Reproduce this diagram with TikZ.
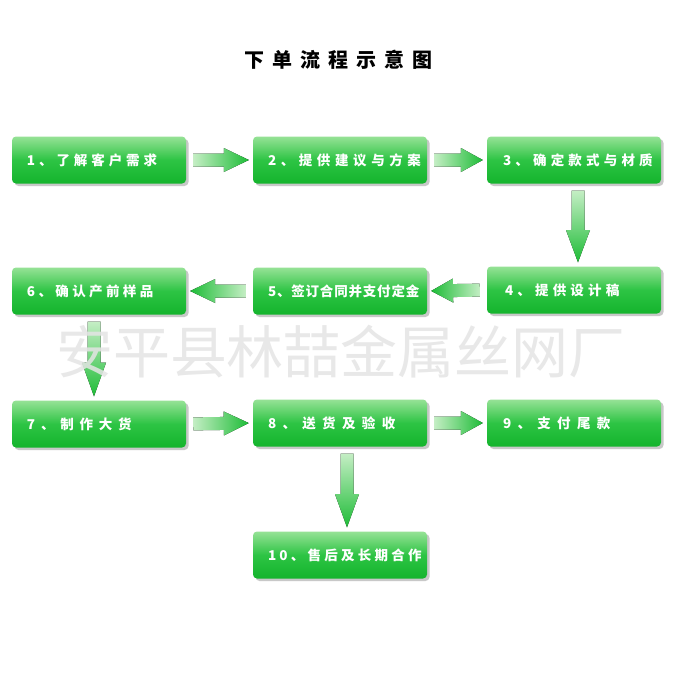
\documentclass[tikz,border=0pt]{standalone}
\usepackage{fontspec}
\newfontfamily\cjk{Noto Sans CJK SC}
\usetikzlibrary{calc, positioning, shadows}

\definecolor{boxtop}{RGB}{150,226,150}
\definecolor{boxmid}{RGB}{45,196,68}
\definecolor{boxbot}{RGB}{20,180,45}
\definecolor{arrowgreen}{RGB}{30,188,55}
\definecolor{arrowpale}{RGB}{196,238,196}
\definecolor{wmgray}{RGB}{228,228,228}

% block arrow between two anchors: from, to, shading
\newcommand\flowarrow[3]{%
  \coordinate (fs) at ($(#1)!7pt!(#2)$);
  \coordinate (ft) at ($(#2)!4pt!(#1)$);
  \coordinate (fn) at ($(ft)!0.45!(fs)$);
  \fill[#3] ($(fs)!6.5pt!90:(ft)$) -- ($(fn)!6.5pt!-90:(fs)$)
    -- ($(fn)!12pt!-90:(fs)$) -- (ft) -- ($(fn)!12pt!90:(fs)$)
    -- ($(fn)!6.5pt!90:(fs)$) -- ($(fs)!6.5pt!-90:(ft)$) -- cycle;
}

\tikzset{
  stage/.style={rounded corners=4pt, minimum width=174pt, minimum height=47pt,
    inner sep=0pt, top color=boxtop, bottom color=boxbot, middle color=boxmid,
    drop shadow={shadow xshift=2.5pt, shadow yshift=-2.5pt, opacity=0.3, fill=black!70}},
  stagetext/.style={text=white, inner sep=0pt,
    font={\cjk\bfseries\fontsize{13.5pt}{14pt}\selectfont\addfontfeature{LetterSpace=#1}}},
  stagetext/.default=30,
  toright/.style={left color=arrowpale, right color=arrowgreen},
  toleft/.style={right color=arrowpale, left color=arrowgreen},
  todown/.style={top color=arrowpale, bottom color=arrowgreen},
}

\begin{document}
\begin{tikzpicture}[x=1pt, y=-1pt]
  \useasboundingbox[fill=white] (0,0) rectangle (680,680);

  \node[font={\cjk\bfseries\fontsize{20pt}{22pt}\selectfont\addfontfeature{LetterSpace=40}}]
    (title) at (338,60) {下单流程示意图};

  % stages
  \node[stage] (b1) at (99,160) {};
  \node[stage] (b2) at (340,160) {};
  \node[stage] (b3) at (574,160) {};
  \node[stage] (b4) at (574,290) {};
  \node[stage] (b5) at (340,291) {};
  \node[stage] (b6) at (99,291) {};
  \node[stage] (b7) at (99,424) {};
  \node[stage] (b8) at (340,423) {};
  \node[stage] (b9) at (574,423) {};
  \node[stage] (b10) at (340,555) {};

  \node[stagetext=29, right=15pt of b1.west] (t1) {1、了解客户需求};
  \node[stagetext=34, right=15pt of b2.west] (t2) {2、提供建议与方案};
  \node[stagetext=31, right=16pt of b3.west] (t3) {3、确定款式与材质};
  \node[stagetext=31, right=18pt of b4.west] (t4) {4、提供设计稿};
  \node[stagetext=6, right=15pt of b5.west] (t5) {5、签订合同并支付定金};
  \node[stagetext=25, right=15pt of b6.west] (t6) {6、确认产前样品};
  \node[stagetext=43, right=15pt of b7.west] (t7) {7、制作大货};
  \node[stagetext=47, right=15pt of b8.west] (t8) {8、送货及验收};
  \node[stagetext=47, right=16pt of b9.west] (t9) {9、支付尾款};
  \node[stagetext=24, right=15pt of b10.west] (t10) {10、售后及长期合作};

  % arrows
  \flowarrow{b1.east}{b2.west}{toright}
  \flowarrow{b2.east}{b3.west}{toright}
  \flowarrow{[xshift=4pt]b3.south}{[xshift=4pt]b4.north}{todown}
  \flowarrow{b4.west}{b5.east}{toleft}
  \flowarrow{b5.west}{b6.east}{toleft}
  \flowarrow{[xshift=-5pt]b6.south}{[xshift=-5pt]b7.north}{todown}
  \flowarrow{b7.east}{b8.west}{toright}
  \flowarrow{b8.east}{b9.west}{toright}
  \flowarrow{[xshift=7pt]b8.south}{[xshift=7pt]b10.north}{todown}

  \node[text=wmgray, text opacity=0.85,
        font={\cjk\fontsize{57pt}{59pt}\selectfont}] (wm) at (341,352)
    {安平县林喆金属丝网厂};
\end{tikzpicture}
\end{document}
